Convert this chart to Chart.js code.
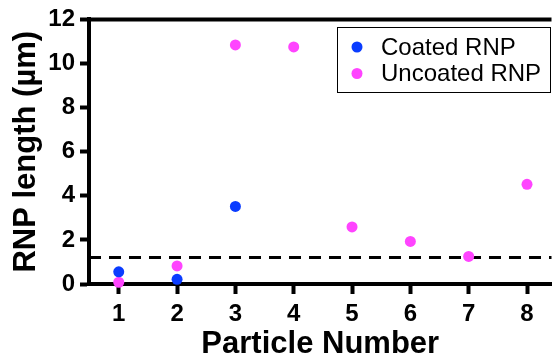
<!DOCTYPE html>
<html>
<head>
<meta charset="utf-8">
<script src="https://cdn.jsdelivr.net/npm/chart.js@4.4.0/dist/chart.umd.min.js"></script>
<style>
  html, body { margin: 0; padding: 0; background: #fff; }
  #wrap { width: 557px; height: 364px; }
</style>
</head>
<body>
<div id="wrap"><canvas id="rnpChart" width="557" height="364"></canvas></div>
<script>
// data
const particles = [1, 2, 3, 4, 5, 6, 7, 8];
const coated = [0.55, 0.21, 3.52];
const uncoated = [0.08, 0.82, 10.84, 10.75, 2.59, 1.93, 1.25, 4.52];
const cutoff = 1.2;
const yTicks = [0, 2, 4, 6, 8, 10, 12];

const blue = '#0a3cff';
const pink = '#ff44ff';
const fontFam = '"Liberation Sans", Arial, sans-serif';

const toPoints = (vals) => vals.map((v, i) => ({ x: particles[i], y: v }));

// legend box + top frame line
const extras = {
  id: 'extras',
  afterDraw(chart) {
    const { ctx, chartArea } = chart;
    ctx.save();
    ctx.strokeStyle = '#000';
    ctx.lineWidth = 4;
    ctx.beginPath();
    ctx.moveTo(chartArea.left - 2, chartArea.top);
    ctx.lineTo(chartArea.right, chartArea.top);
    ctx.stroke();

    // legend
    ctx.lineWidth = 1;
    ctx.strokeRect(337.5, 27.5, 213, 65);
    const items = [
      { label: chart.data.datasets[0].label, color: blue },
      { label: chart.data.datasets[1].label, color: pink },
    ];
    ctx.font = '24px ' + fontFam;
    ctx.textBaseline = 'middle';
    items.forEach((it, i) => {
      const y = 47 + i * 26.5;
      ctx.fillStyle = it.color;
      ctx.beginPath();
      ctx.arc(357, y, 5.5, 0, Math.PI * 2);
      ctx.fill();
      ctx.fillStyle = '#000';
      ctx.fillText(it.label, 381, y + 1);
    });
    ctx.restore();
  }
};

new Chart(document.getElementById('rnpChart'), {
  type: 'scatter',
  data: {
    datasets: [
      {
        label: 'Coated RNP',
        data: toPoints(coated),
        backgroundColor: blue,
        borderWidth: 0,
        pointRadius: 5.5,
        clip: false,
      },
      {
        label: 'Uncoated RNP',
        data: toPoints(uncoated),
        backgroundColor: pink,
        borderWidth: 0,
        pointRadius: 5.5,
        clip: false,
      },
      {
        type: 'line',
        label: 'cutoff',
        data: [{ x: 0.49, y: cutoff }, { x: 8.42, y: cutoff }],
        borderColor: '#000',
        borderWidth: 3,
        borderDash: [12, 8],
        pointRadius: 0,
        fill: false,
        clip: false,
      },
    ],
  },
  options: {
    responsive: false,
    animation: false,
    layout: { padding: { top: 15, right: 0, left: 0, bottom: 0 } },
    plugins: {
      legend: { display: false },
      tooltip: { enabled: false },
    },
    scales: {
      x: {
        type: 'linear',
        min: 0.49,
        max: 8.42,
        afterBuildTicks: (scale) => { scale.ticks = particles.map(v => ({ value: v })); },
        afterFit: (scale) => { scale.height = 80; },
        border: { display: true, color: '#000', width: 4 },
        grid: { display: true, drawOnChartArea: false, drawTicks: true, tickLength: 10, tickWidth: 4, tickColor: '#000' },
        ticks: {
          color: '#000',
          padding: 6,
          font: { family: fontFam, size: 24, weight: 'bold' },
        },
        title: {
          display: true,
          text: 'Particle Number',
          color: '#000',
          padding: { top: 0, bottom: 1 },
          font: { family: fontFam, size: 31, weight: 'bold' },
        },
      },
      y: {
        min: 0,
        max: 12,
        afterBuildTicks: (scale) => { scale.ticks = yTicks.map(v => ({ value: v })); },
        afterFit: (scale) => { scale.width = 89; },
        border: { display: true, color: '#000', width: 4 },
        grid: { display: true, drawOnChartArea: false, drawTicks: true, tickLength: 9, tickWidth: 4, tickColor: '#000' },
        ticks: {
          color: '#000',
          padding: 5,
          font: { family: fontFam, size: 24, weight: 'bold' },
        },
        title: {
          display: true,
          text: 'RNP length (µm)',
          color: '#000',
          padding: { top: 8, bottom: 0 },
          font: { family: fontFam, size: 31, weight: 'bold' },
        },
      },
    },
  },
  plugins: [extras],
});
</script>
</body>
</html>
